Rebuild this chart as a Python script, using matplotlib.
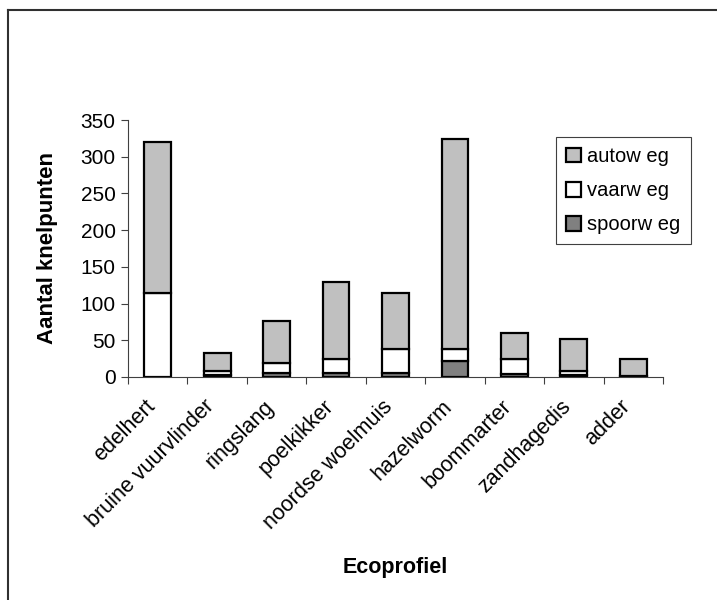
import numpy as np
import matplotlib.pyplot as plt
from matplotlib.lines import Line2D

plt.rcParams['font.family'] = ['Liberation Sans', 'DejaVu Sans']

soorten = ['edelhert', 'bruine vuurvlinder', 'ringslang', 'poelkikker',
           'noordse woelmuis', 'hazelworm', 'boommarter', 'zandhagedis', 'adder']
spoorweg = [0, 3, 5, 5, 5, 22, 4, 3, 1]
vaarweg = [114, 5, 14, 19, 33, 16, 20, 5, 1]
autoweg = [206, 25, 57, 106, 76, 286, 36, 44, 22]

fig = plt.figure(figsize=(7.17, 6), dpi=100)
ax = fig.add_axes([128/717, 1-377/600, (663-128)/717, (377-120)/600])

x = np.arange(len(soorten))
w = 0.45
sp = np.array(spoorweg)
va = np.array(vaarweg)
au = np.array(autoweg)
ax.bar(x, sp, w, color='#808080', edgecolor='black', linewidth=1.6, label='spoorw eg')
ax.bar(x, va, w, bottom=sp, color='white', edgecolor='black', linewidth=1.6, label='vaarw eg')
ax.bar(x, au, w, bottom=sp + va, color='#c0c0c0', edgecolor='black', linewidth=1.6, label='autow eg')

ax.set_xlim(-0.5, len(soorten) - 0.5)
ax.set_ylim(0, 350)
ax.set_yticks(range(0, 351, 50))
ax.spines['top'].set_visible(False)
ax.spines['right'].set_visible(False)
ax.spines['left'].set_color('#404040')
ax.spines['bottom'].set_color('#404040')

ax.set_xticks(np.arange(len(soorten) + 1) - 0.5)
ax.set_xticklabels([])
ax.tick_params(axis='x', length=5, color='#404040')
ax.tick_params(axis='y', length=5, color='#404040', labelsize=15, pad=4)
for i, s in enumerate(soorten):
    ax.text(i - 0.22, -26, s, rotation=45, ha='right', va='top',
            rotation_mode='anchor', fontsize=15.5)

ax.set_ylabel('Aantal knelpunten', fontsize=16, fontweight='bold', labelpad=16)
fig.text(395/717, 1-567/600, 'Ecoprofiel', fontsize=15.5, fontweight='bold',
         ha='center', va='center')

h, l = ax.get_legend_handles_labels()
leg = fig.legend(h[::-1], l[::-1], loc='upper left',
                 bbox_to_anchor=(556/717, 1-137/600), fontsize=14.5,
                 handlelength=0.75, handleheight=0.75, labelspacing=0.75,
                 handletextpad=0.3, borderpad=0.5, borderaxespad=0,
                 fancybox=False, framealpha=1, edgecolor='#404040')
leg.get_frame().set_linewidth(0.8)

# rand van het plaatje (alleen boven en links zichtbaar)
fig.add_artist(Line2D([8/717, 8/717], [0, 1-10/600], color='#303030', lw=1.5,
                      transform=fig.transFigure))
fig.add_artist(Line2D([8/717, 1], [1-10/600, 1-10/600], color='#303030', lw=1.5,
                      transform=fig.transFigure))

plt.savefig('out.png', dpi=100)
